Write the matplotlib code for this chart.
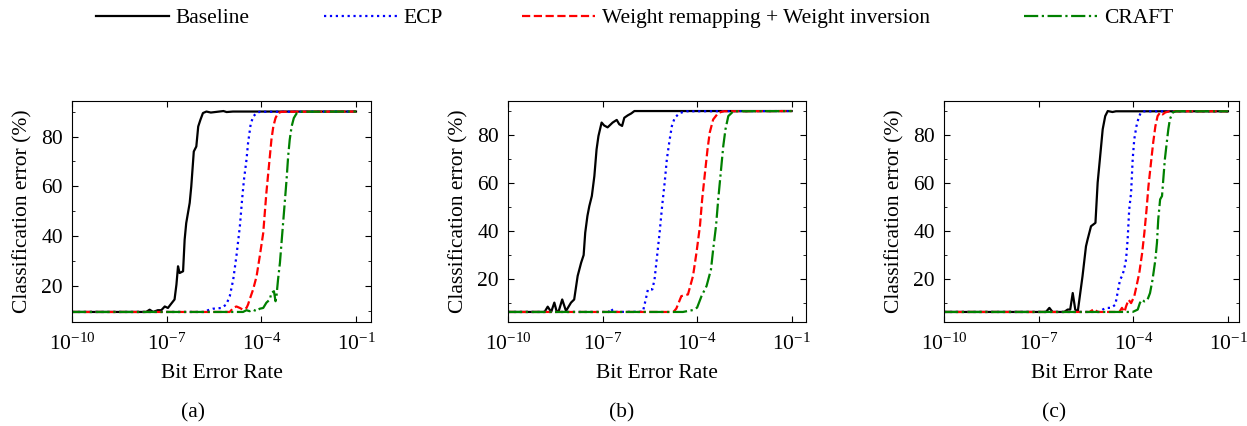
import numpy as np
import matplotlib
matplotlib.use("Agg")
import matplotlib.pyplot as plt
from matplotlib.ticker import MultipleLocator, NullLocator

plt.rcParams['font.family'] = ['Liberation Serif', 'DejaVu Serif']
plt.rcParams['mathtext.fontset'] = 'stix'
plt.rcParams['font.size'] = 15.5

# ---------------- data (BER exponents, classification error %) ----------------
series_labels = ["Baseline", "ECP", "Weight remapping + Weight inversion", "CRAFT"]
panel_captions = ["(a)", "(b)", "(c)"]
x_tick_values = [1e-10, 1e-7, 1e-4, 1e-1]

# panel (a)
a_base_exp = [-10, -7.65, -7.54, -7.43, -7.28, -7.17, -7.06, -6.96, -6.85, -6.75, -6.69, -6.64, -6.59, -6.48,
              -6.43, -6.38, -6.27, -6.22, -6.14, -6.06, -6.0, -5.93, -5.85, -5.74, -5.6, -5.2, -5.1, -4.9, -1]
a_base_err = [9.7, 9.7, 10.6, 9.7, 10.4, 10.4, 11.9, 11.3, 13.1, 14.7, 20.7, 28.0, 25.3, 26.0,
              38.7, 45.3, 53.4, 60, 74, 76, 84, 86.7, 89.4, 90, 89.6, 90.2, 89.8, 90, 90]
a_ecp_exp = [-10, -5.79, -5.69, -5.53, -5.26, -5.11, -5.0, -4.89, -4.79, -4.68, -4.61, -4.55, -4.47, -4.42,
             -4.34, -4.26, -4.15, -4.05, -1]
a_ecp_err = [9.7, 9.7, 10.4, 11.0, 11.3, 12.7, 16, 22.7, 32, 44, 54.7, 62.7, 70.7, 77.4,
             84.7, 88, 89.4, 89.9, 90]
a_wr_exp = [-10, -5.0, -4.89, -4.79, -4.68, -4.58, -4.47, -4.42, -4.37, -4.26, -4.15, -4.05, -3.94, -3.89,
            -3.84, -3.78, -3.73, -3.68, -3.62, -3.55, -3.47, -3.36, -1]
a_wr_err = [9.7, 9.7, 11.3, 11.9, 11.3, 10.6, 11.3, 12.7, 14.7, 18.7, 24, 32, 41.3, 49.4,
            57.4, 65.4, 72, 78.7, 84, 87.4, 89.4, 89.9, 90]
a_craft_exp = [-10, -4.58, -4.47, -4.37, -4.26, -4.15, -4.05, -3.94, -3.84, -3.73, -3.68, -3.60, -3.55, -3.52,
               -3.47, -3.41, -3.36, -3.31, -3.25, -3.20, -3.15, -3.10, -3.04, -2.97, -2.88, -2.78, -1]
a_craft_err = [9.7, 9.7, 10.4, 10.0, 10.6, 10.0, 11.0, 11.3, 13.4, 14.7, 17.4, 18, 14, 16,
               22.7, 29.4, 37.4, 45.3, 54.7, 62.7, 72, 78.7, 84, 87.4, 89.3, 89.9, 90]

# panel (b)
b_base_exp = [-10, -8.84, -8.74, -8.63, -8.53, -8.46, -8.39, -8.28, -8.16, -8.0, -7.90, -7.79, -7.68, -7.60,
              -7.55, -7.48, -7.42, -7.34, -7.26, -7.19, -7.13, -7.03, -6.95, -6.84, -6.68, -6.55,
              -6.47, -6.38, -6.31, -6.20, -6.09, -5.99, -1]
b_base_err = [6.3, 6.3, 8.5, 6.3, 10.2, 6.7, 6.7, 11.5, 6.7, 10.2, 11.5, 21.3, 26.8, 30,
              39.3, 46.3, 50.4, 54.6, 62.9, 74, 79.6, 85.2, 84, 83.2, 85.2, 86.3,
              84.5, 83.8, 87.2, 88.2, 89, 90, 90]
b_ecp_exp = [-10, -6.8, -6.73, -6.66, -5.72, -5.63, -5.56, -5.42, -5.35, -5.27, -5.19, -5.11, -5.03, -4.96,
             -4.87, -4.80, -4.71, -4.55, -4.34, -1]
b_ecp_err = [6.3, 6.3, 7.8, 6.3, 6.4, 11.5, 15.7, 15.7, 19.9, 29.6, 39.3, 50.4, 60.1, 69.9,
             78.2, 83.8, 87.2, 89.2, 89.9, 90]
b_wr_exp = [-10, -4.75, -4.66, -4.50, -4.29, -4.13, -4.02, -3.91, -3.84, -3.75, -3.67, -3.60, -3.49, -3.33,
            -3.17, -1]
b_wr_err = [6.3, 6.3, 7.7, 12.9, 13.6, 21.3, 31, 42.1, 53.2, 64.3, 74, 81, 86.5, 89.2,
            89.9, 90]
b_craft_exp = [-10, -4.45, -4.13, -4.0, -3.86, -3.70, -3.56, -3.49, -3.40, -3.33, -3.25, -3.17, -3.10, -3.01,
               -2.85, -1]
b_craft_err = [6.3, 6.3, 7.1, 8.1, 12.9, 17.1, 24, 32.4, 42.1, 53.2, 64.3, 75.4, 82.4, 87.9,
               89.9, 90]

# panel (c)
c_base_exp = [-10, -6.77, -6.66, -6.56, -6.19, -6.08, -6.0, -5.92, -5.84, -5.76, -5.71, -5.61, -5.50, -5.45,
              -5.34, -5.20, -5.13, -5.06, -4.97, -4.89, -4.81, -4.66, -4.55, -1]
c_base_err = [6.2, 6.2, 7.9, 6.2, 6.2, 7.2, 7.2, 14.1, 7.2, 6.4, 11.3, 21.1, 33.6, 36.4,
              42, 43.4, 60.2, 69.9, 82.5, 88, 90.1, 89.7, 90, 90]
c_ecp_exp = [-10, -5.08, -4.97, -4.86, -4.71, -4.57, -4.50, -4.42, -4.36, -4.29, -4.23, -4.18, -4.13, -4.07,
             -4.02, -3.97, -3.90, -3.83, -3.76, -3.65, -1]
c_ecp_err = [6.2, 6.2, 7.2, 7.9, 7.9, 9.2, 14.1, 19.7, 21.1, 23.9, 28.1, 36.4, 49, 56,
             69.9, 78.3, 83.8, 87.4, 89.5, 90, 90]
c_wr_exp = [-10, -5.39, -5.24, -5.13, -4.44, -4.36, -4.28, -4.23, -4.15, -4.07, -3.97, -3.90, -3.81, -3.72,
            -3.65, -3.58, -3.52, -3.44, -3.37, -3.30, -3.23, -3.15, -3.07, -2.99, -2.86, -1]
c_wr_err = [6.2, 6.2, 7.4, 6.2, 6.2, 7.9, 6.2, 8.5, 11.3, 9.9, 12.7, 16.9, 22.5, 30.8,
            39.2, 49, 58.7, 68.5, 76.9, 83.8, 88, 89.5, 88.7, 89.5, 90, 90]
c_craft_exp = [-10, -4.02, -3.86, -3.79, -3.72, -3.65, -3.55, -3.47, -3.39, -3.30, -3.25, -3.21, -3.15, -3.09,
               -3.05, -3.0, -2.94, -2.89, -2.84, -2.75, -2.65, -1]
c_craft_err = [6.2, 6.2, 7.2, 10.0, 11.3, 10.6, 11.3, 14.1, 19.7, 28.1, 35.1, 44.8, 53.2, 54.6,
               61.5, 69.9, 76.9, 82.5, 86.7, 89.5, 90, 90]

panels = [
    [(a_base_exp, a_base_err), (a_ecp_exp, a_ecp_err), (a_wr_exp, a_wr_err), (a_craft_exp, a_craft_err)],
    [(b_base_exp, b_base_err), (b_ecp_exp, b_ecp_err), (b_wr_exp, b_wr_err), (b_craft_exp, b_craft_err)],
    [(c_base_exp, c_base_err), (c_ecp_exp, c_ecp_err), (c_wr_exp, c_wr_err), (c_craft_exp, c_craft_err)],
]

# ---------------- styling / layout ----------------
W, H = 1247, 426
FS = 15.5
styles = [dict(color='black', ls='-'), dict(color='blue', ls=':'),
          dict(color='red', ls='--'), dict(color='green', ls='-.')]
# axes boxes in pixels: left, right, top, bottom
boxes = [(72, 371, 101, 322), (508, 806, 101, 322), (944, 1239, 101, 322)]
x_right_exp = [-0.524, -0.545, -0.65]
caption_x = [193, 622, 1054]
legend_x = [96, 324, 522, 1024]

fig = plt.figure(figsize=(W / 100, H / 100), dpi=100)
handles = None
for i, (panel, box) in enumerate(zip(panels, boxes)):
    l, r, t, b = box
    ax = fig.add_axes([l / W, (H - b) / H, (r - l) / W, (b - t) / H])
    hs = []
    for (xe, ye), st, lab in zip(panel, styles, series_labels):
        h, = ax.plot(10.0 ** np.array(xe), ye, lw=1.6, label=lab, **st)
        hs.append(h)
    if handles is None:
        handles = hs
    ax.set_xscale('log')
    ax.set_xlim(1e-10, 10 ** x_right_exp[i])
    ax.set_xticks(x_tick_values)
    ax.xaxis.set_minor_locator(NullLocator())
    ax.yaxis.set_major_locator(MultipleLocator(20))
    ax.yaxis.set_minor_locator(MultipleLocator(10))
    ax.tick_params(which='both', direction='in', top=True, right=True, labelsize=FS)
    ax.tick_params(which='major', length=4)
    ax.tick_params(which='minor', length=2.5)
    ax.tick_params(axis='x', pad=8)
    ax.tick_params(axis='y', pad=6.5)
    ax.set_xlabel("Bit Error Rate", fontsize=FS, labelpad=7)
    ax.set_ylabel("Classification error (%)", fontsize=FS, labelpad=6)
    fig.text(caption_x[i] / W, 13 / H, panel_captions[i], ha='center', va='center', fontsize=FS)

for h, lab, lx in zip(handles, series_labels, legend_x):
    fig.legend(handles=[h], labels=[lab], loc='center left', bbox_to_anchor=(lx / W, 1 - 18 / H),
               frameon=False, handlelength=3.4, handletextpad=0.3, fontsize=FS,
               borderpad=0, borderaxespad=0)

fig.savefig("out.png", dpi=100)
